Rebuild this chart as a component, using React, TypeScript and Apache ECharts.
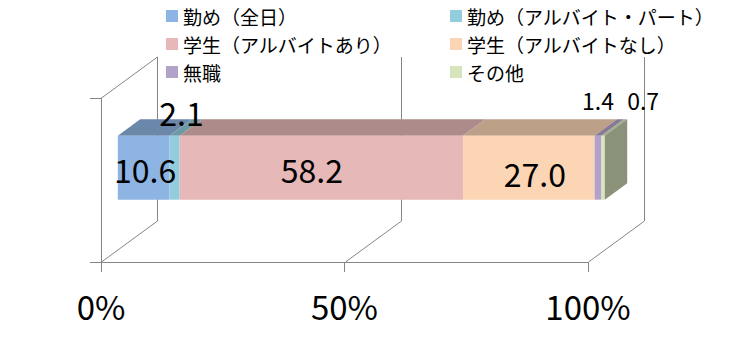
import React, { useEffect, useRef } from 'react';
import * as echarts from 'echarts';

// ---- data ----
const categories = [
  '勤め（全日）',
  '勤め（アルバイト・パート）',
  '学生（アルバイトあり）',
  '学生（アルバイトなし）',
  '無職',
  'その他',
];
const values = [10.6, 2.1, 58.2, 27.0, 1.4, 0.7];
const xTicks = [0, 50, 100];
const yCategories = [''];

// ---- styles ----
const colors = ['#8EB4E3', '#93CDDD', '#E6B9B8', '#FCD5B5', '#B3A2C7', '#D7E4BD'];
const labelOffsets = [[1.5, 1], [7, -56], [-9.5, 1], [6, 5], [0, -67.5], [40, -67.5]];
const labelSizes = [32, 32, 32, 32, 23, 23];
const DEPTH_DX = 56;
const DEPTH_DY = -41;
const BAR_FRONT = 0.3;
const BAR_BACK = 0.7;
const BAR_BAND = 0.39;
const GRID_COLOR = '#868686';
const FONT = '"Noto Sans CJK JP", "Noto Sans", sans-serif';

function shade(hex: string, f: number): string {
  const n = parseInt(hex.slice(1), 16);
  const r = Math.round(((n >> 16) & 255) * f);
  const g = Math.round(((n >> 8) & 255) * f);
  const b = Math.round((n & 255) * f);
  return `rgb(${r},${g},${b})`;
}

export default function App() {
  const ref = useRef<HTMLDivElement>(null);

  useEffect(() => {
    if (!ref.current) return;
    const chart = echarts.init(ref.current, undefined, { renderer: 'svg' });

    const starts: number[] = [];
    let acc = 0;
    values.forEach((v) => {
      starts.push(acc);
      acc += v;
    });

    const barSeries = categories.map((name, i) => ({
      name,
      type: 'custom',
      coordinateSystem: 'cartesian2d',
      silent: true,
      z: 3,
      itemStyle: { color: colors[i] },
      encode: { x: [0, 1], y: 2 },
      data: [[starts[i], starts[i] + values[i], 0]],
      renderItem: (params: any, api: any) => {
        const s = api.value(0);
        const e = api.value(1);
        const p0 = api.coord([s, 0]);
        const p1 = api.coord([e, 0]);
        const band = api.size([0, 1])[1];
        const h = band * BAR_BAND;
        const fx = DEPTH_DX * BAR_FRONT;
        const fy = DEPTH_DY * BAR_FRONT;
        const dx = DEPTH_DX * (BAR_BACK - BAR_FRONT);
        const dy = DEPTH_DY * (BAR_BACK - BAR_FRONT);
        const x0 = p0[0] + fx;
        const x1 = p1[0] + fx;
        const yTop = p0[1] + fy - h / 2;
        const yBot = yTop + h;
        const color = colors[i];
        const children: any[] = [
          {
            type: 'polygon',
            shape: { points: [[x0, yTop], [x1, yTop], [x1 + dx, yTop + dy], [x0 + dx, yTop + dy]] },
            style: { fill: shade(color, 0.75) },
          },
          {
            type: 'rect',
            shape: { x: x0, y: yTop, width: x1 - x0, height: h },
            style: { fill: color },
          },
        ];
        if (i === categories.length - 1) {
          children.push({
            type: 'polygon',
            shape: { points: [[x1, yTop], [x1 + dx, yTop + dy], [x1 + dx, yBot + dy], [x1, yBot]] },
            style: { fill: shade(color, 0.64) },
          });
        }
        children.push({
          type: 'text',
          z2: 100,
          x: (x0 + x1) / 2 + labelOffsets[i][0],
          y: (yTop + yBot) / 2 + labelOffsets[i][1],
          style: {
            text: values[i].toFixed(1),
            fontSize: labelSizes[i],
            fontFamily: FONT,
            fill: '#000',
            align: 'center',
            verticalAlign: 'middle',
          },
        });
        return { type: 'group', children };
      },
    }));

    const gridSeries = {
      name: '__grid',
      type: 'custom',
      coordinateSystem: 'cartesian2d',
      silent: true,
      z: 1,
      encode: { x: 0, y: 1 },
      data: xTicks.map((v) => [v, 0]),
      renderItem: (params: any, api: any) => {
        const v = api.value(0);
        const p = api.coord([v, 0]);
        const cs = params.coordSys;
        const floorY = cs.y + cs.height;
        const topY = cs.y;
        const x = Math.round(p[0]) + 0.5;
        const style = { stroke: GRID_COLOR, lineWidth: 1 };
        const children: any[] = [
          { type: 'line', shape: { x1: x, y1: floorY, x2: x + DEPTH_DX, y2: floorY + DEPTH_DY }, style },
          { type: 'line', shape: { x1: x + DEPTH_DX, y1: floorY + DEPTH_DY, x2: x + DEPTH_DX, y2: topY + DEPTH_DY }, style },
        ];
        if (v === xTicks[0]) {
          children.push({ type: 'line', shape: { x1: x, y1: topY, x2: x + DEPTH_DX, y2: topY + DEPTH_DY }, style });
        }
        return { type: 'group', children };
      },
    };

    const legendCommon = {
      orient: 'vertical',
      top: 1,
      itemWidth: 12,
      itemHeight: 12,
      itemGap: 8,
      icon: 'rect',
      selectedMode: false,
      textStyle: { fontSize: 19, fontFamily: FONT, color: '#000', lineHeight: 20 },
    };

    chart.setOption({
      animation: false,
      backgroundColor: '#fff',
      legend: [
        { ...legendCommon, left: 161, data: [categories[0], categories[2], categories[4]] },
        { ...legendCommon, left: 445, data: [categories[1], categories[3], categories[5]] },
      ],
      grid: { left: 101, top: 98, width: 487, height: 164, containLabel: false },
      xAxis: {
        type: 'value',
        min: 0,
        max: 100,
        interval: 50,
        axisLine: { show: true, lineStyle: { color: GRID_COLOR, width: 1 } },
        axisTick: { show: true, length: 10, lineStyle: { color: GRID_COLOR, width: 1 } },
        splitLine: { show: false },
        axisLabel: {
          formatter: '{value}%',
          fontSize: 33,
          fontFamily: FONT,
          color: '#000',
          margin: 27,
        },
      },
      yAxis: {
        type: 'category',
        data: yCategories,
        axisLine: { show: true, lineStyle: { color: GRID_COLOR, width: 1 } },
        axisTick: { show: true, length: 11, lineStyle: { color: GRID_COLOR, width: 1 } },
        axisLabel: { show: false },
        splitLine: { show: false },
      },
      series: [gridSeries, ...barSeries],
    });

    return () => chart.dispose();
  }, []);

  return (
    <div
      ref={ref}
      style={{ position: 'absolute', left: 0, top: 0, width: 756, height: 348 }}
    />
  );
}
